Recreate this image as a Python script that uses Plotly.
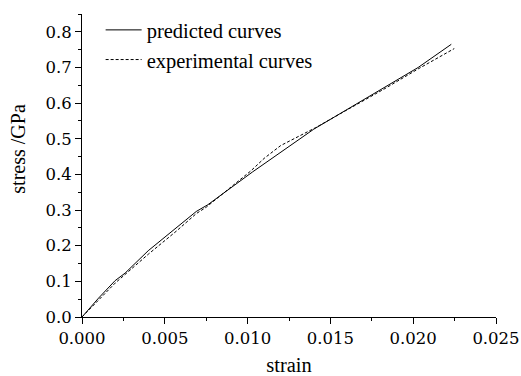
import plotly.graph_objects as go

# Predicted curve (solid)
pred_strain = [0.0, 0.001, 0.002, 0.0026, 0.004, 0.0057, 0.0069, 0.0076, 0.0103, 0.0140, 0.0183, 0.0203, 0.0223]
pred_stress = [0.0, 0.053, 0.102, 0.123, 0.186, 0.250, 0.296, 0.315, 0.407, 0.527, 0.645, 0.700, 0.765]

# Experimental curve (dashed)
exp_strain = [0.0, 0.001, 0.002, 0.004, 0.0057, 0.0069, 0.0075, 0.0102, 0.0110, 0.0120, 0.0134, 0.0141, 0.0157, 0.0183, 0.0203, 0.02248]
exp_stress = [0.0, 0.048, 0.095, 0.176, 0.241, 0.290, 0.308, 0.410, 0.445, 0.481, 0.513, 0.531, 0.573, 0.641, 0.696, 0.753]

x_ticks = [0.0, 0.005, 0.010, 0.015, 0.020, 0.025]
x_labels = ["0.000", "0.005", "0.010", "0.015", "0.020", "0.025"]
y_ticks = [0.0, 0.1, 0.2, 0.3, 0.4, 0.5, 0.6, 0.7, 0.8]
y_labels = ["0.0", "0.1", "0.2", "0.3", "0.4", "0.5", "0.6", "0.7", "0.8"]

TEXT_FONT = "'Liberation Serif', 'Times New Roman', serif"
TICK_FONT = "'DejaVu Serif', serif"

fig = go.Figure()
fig.add_trace(go.Scatter(x=pred_strain, y=pred_stress, mode="lines",
                         name="predicted curves",
                         line=dict(color="black", width=1)))
fig.add_trace(go.Scatter(x=exp_strain, y=exp_stress, mode="lines",
                         name="experimental curves",
                         line=dict(color="black", width=1, dash="3px,2px")))

axis_common = dict(showgrid=False, zeroline=False, showline=True,
                   linecolor="black", linewidth=1, ticks="outside",
                   tickcolor="black", tickwidth=1, ticklen=6,
                   ticklabeloverflow="allow", automargin=False,
                   tickfont=dict(family=TICK_FONT, size=16.5, color="black"))

fig.update_layout(
    width=521, height=376,
    margin=dict(l=82, r=25, t=10, b=59),
    paper_bgcolor="white", plot_bgcolor="white",
    showlegend=True,
    legend=dict(x=0.045, y=1.013, xanchor="left", yanchor="top",
                bgcolor="rgba(0,0,0,0)", borderwidth=0,
                font=dict(family=TEXT_FONT, size=20.5, color="black"),
                tracegroupgap=0, itemwidth=36),
    xaxis=dict(range=[0, 0.025], tickvals=x_ticks, ticktext=x_labels,
               minor=dict(ticks="outside", ticklen=3, tickcolor="black", dtick=0.0025),
               title=dict(text="strain", font=dict(family=TEXT_FONT, size=20.5, color="black"), standoff=11),
               **axis_common),
    yaxis=dict(range=[0, 0.85], tickvals=y_ticks, ticktext=y_labels,
               minor=dict(ticks="outside", ticklen=3, tickcolor="black", dtick=0.05),
               **axis_common),
    annotations=[dict(text="stress /GPa", textangle=-90, xref="paper", yref="paper",
                      x=-0.155, y=0.555, xanchor="center", yanchor="middle", showarrow=False,
                      font=dict(family=TEXT_FONT, size=20, color="black"))],
)

fig.write_html("out.html")
